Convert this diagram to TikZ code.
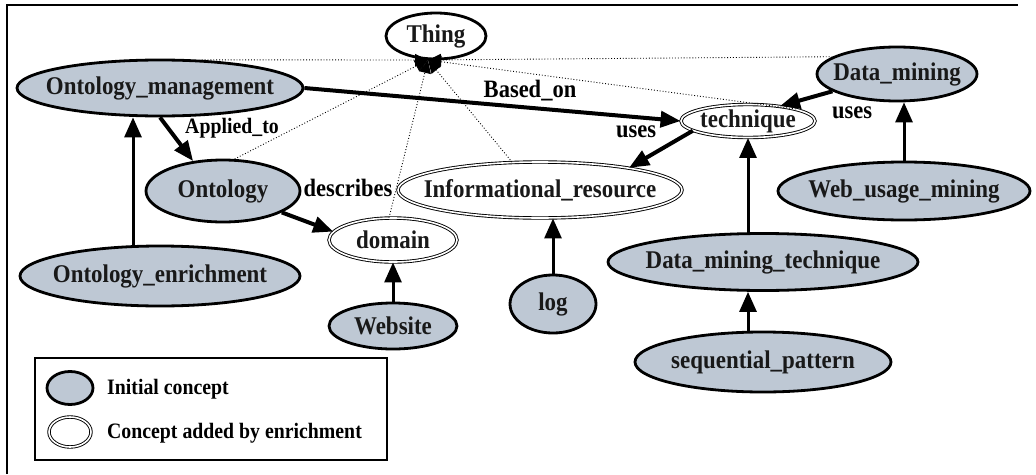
\documentclass[tikz,border=0pt]{standalone}
\usepackage{fontspec}
\setmainfont{Liberation Serif}[FakeStretch=0.9]
\usetikzlibrary{shapes.geometric,arrows.meta}
\definecolor{cgray}{RGB}{190,200,212}
\newcommand\zw[1]{\makebox[0pt]{#1}}
\tikzset{
 base/.style={ellipse, inner sep=0pt, text=black!90, font=\fontsize{25.5}{28}\selectfont\bfseries},
 init/.style={base, draw, line width=2.8pt, fill=cgray},
 added/.style={base, draw, double, line width=0.9pt, double distance=1.6pt, fill=white},
 topc/.style={base, draw, line width=2.8pt, fill=white},
 lbl/.style={inner sep=0pt, font=\fontsize{25}{28}\selectfont\bfseries},
 arr/.style={line width=4pt, -{Triangle[length=20pt,width=16pt]}},
 varr/.style={line width=3pt, -{Triangle[length=20pt,width=17pt]}},
 dotl/.style={dotted, line width=0.9pt, -{Triangle[length=13pt,width=12pt]}},
 legtxt/.style={inner sep=0pt, anchor=west, font=\fontsize{22}{26}\selectfont\bfseries},
}
\begin{document}
\begin{tikzpicture}[x=1pt,y=-1pt]
\useasboundingbox (0,0) rectangle (1036,474);
\draw[line width=1.8pt] (7,474) -- (7,5) -- (1018,5);

% nodes
\node[topc, minimum width=100pt, minimum height=46pt] (thing) at (436,36) {\zw{Thing}};
\node[init, minimum width=286pt, minimum height=56pt] (om) at (160,88) {\zw{Ontology\_management}};
\node[init, minimum width=154pt, minimum height=62pt] (ont) at (223,191) {\zw{Ontology}};
\node[init, minimum width=280pt, minimum height=60pt] (oe) at (160,276) {\zw{Ontology\_enrichment}};
\node[added, minimum width=128pt, minimum height=44pt] (dom) at (393,240) {\zw{domain}};
\node[init, minimum width=128pt, minimum height=46pt] (web) at (393,326) {\zw{Website}};
\node[added, minimum width=284pt, minimum height=56pt] (ir) at (540,190) {\zw{Informational\_resource}};
\node[init, minimum width=86pt, minimum height=58pt] (log) at (553,304) {\zw{log}};
\node[added, minimum width=134pt, minimum height=33pt] (tech) at (748,121) {\zw{technique}};
\node[init, minimum width=160pt, minimum height=54pt] (dm) at (897,74) {\zw{Data\_mining}};
\node[init, minimum width=252pt, minimum height=58pt] (wum) at (904,191) {\zw{Web\_usage\_mining}};
\node[init, minimum width=310pt, minimum height=57pt] (dmt) at (763,262) {\zw{Data\_mining\_technique}};
\node[init, minimum width=256pt, minimum height=60pt] (seq) at (763,362) {\zw{sequential\_pattern}};

% dotted links to Thing
\coordinate (tp) at (428,60);
\draw[dotl] (om.34) -- (tp);
\draw[dotl] (ont.70) -- (tp);
\draw[dotl] (dom.100) -- (tp);
\draw[dotl] (ir.135) -- (tp);
\draw[dotl] (tech.north east) -- (tp);
\draw[dotl] (dm.165) -- (tp);

% relations
\draw[arr] (om.east) -- (tech.west);
\node[lbl] (lbased) at (530,91) {Based\_on};
\draw[arr] (tech.190) -- (ir.14);
\node[lbl] (luses1) at (636,132) {uses};
\draw[arr] (dm.195) -- (tech.25);
\node[lbl] (luses2) at (852,113) {uses};
\draw[arr] (om.south) -- (ont.135);
\node[lbl, font=\fontsize{22}{26}\selectfont\bfseries] (lapp) at (232,128) {Applied\_to};
\draw[arr] (ont.-20) -- (dom.172);
\node[lbl] (ldesc) at (348,188) {describes};

% subconcept arrows
\coordinate (oex) at (133,0);
\draw[varr] (oe.north -| oex) -- (om.south -| oex);
\draw[varr] (web.north) -- (dom.south);
\draw[varr] (log.north) -- (log.north |- ir.south);
\draw[varr] (wum.north) -- (wum.north |- dm.south);
\draw[varr] (dmt.north -| tech.south) -- (tech.south);
\draw[varr] (seq.north -| tech.south) -- (dmt.south -| tech.south);

% legend
\node[draw, line width=2pt, minimum width=352pt, minimum height=102pt, inner sep=0pt] (legbox) at (211,409) {};
\node[init, minimum width=46pt, minimum height=33pt] (leg1) at (70,388) {};
\node[added, minimum width=42pt, minimum height=30pt] (leg2) at (70,432) {};
\node[legtxt] (legt1) at (107,389) {Initial concept};
\node[legtxt] (legt2) at (107,433) {Concept added by enrichment};
\end{tikzpicture}
\end{document}
